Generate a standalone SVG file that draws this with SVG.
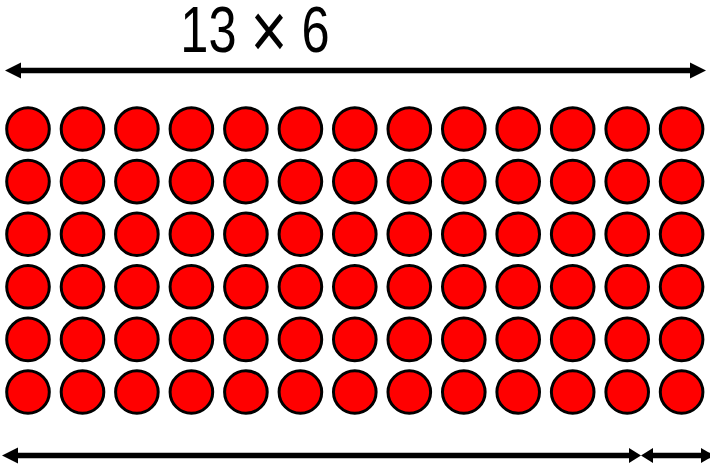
<svg xmlns="http://www.w3.org/2000/svg" width="710" height="467" viewBox="0 0 710 467">
<style>
.dot{fill:#ff0000;stroke:#000;stroke-width:3}
.ar{stroke:#000;stroke-width:5.5;fill:none}
.hd{fill:#000}
</style>
<defs>
<circle id="c" class="dot" r="21.3"/>
<g id="row">
<use href="#c" x="28"/><use href="#c" x="82.5"/><use href="#c" x="136.9"/><use href="#c" x="191.4"/><use href="#c" x="245.9"/><use href="#c" x="300.4"/><use href="#c" x="354.8"/><use href="#c" x="409.3"/><use href="#c" x="463.8"/><use href="#c" x="518.2"/><use href="#c" x="572.7"/><use href="#c" x="627.2"/><use href="#c" x="681.6"/>
</g>
</defs>
<rect width="710" height="467" fill="#fff"/>
<text transform="translate(255,52) scale(0.79,1)" font-family="'Liberation Sans', Arial, sans-serif" font-size="64" text-anchor="middle" fill="#000">13 <tspan font-size="80" dy="6">×</tspan><tspan dy="-6"> 6</tspan></text>
<g id="dots">
<use href="#row" y="129"/>
<use href="#row" y="181.6"/>
<use href="#row" y="234.2"/>
<use href="#row" y="286.8"/>
<use href="#row" y="339.4"/>
<use href="#row" y="392"/>
</g>
<g id="connectors">
<line class="ar" x1="18" y1="70.5" x2="692" y2="70.5"/>
<polygon class="hd" points="5,70.5 21,62.5 21,78.5"/>
<polygon class="hd" points="706,70.5 690,62.5 690,78.5"/>
<line class="ar" x1="14" y1="455.5" x2="632" y2="455.5"/>
<polygon class="hd" points="2,455.5 18,447.5 18,463.5"/>
<polygon class="hd" points="641,455.5 629,448 629,463"/>
<line class="ar" x1="650" y1="455.5" x2="710" y2="455.5"/>
<polygon class="hd" points="641,455.5 653,448 653,463"/>
<polygon class="hd" points="714,455.5 701,448 701,463"/>
</g>
</svg>
